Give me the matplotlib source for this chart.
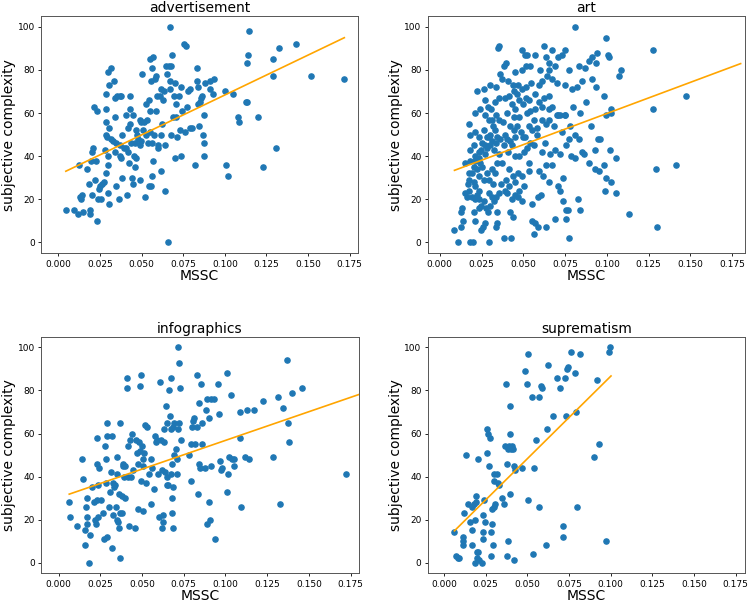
import numpy as np
import matplotlib
matplotlib.use("Agg")
import matplotlib.pyplot as plt

# ---- data (MSSC, subjective complexity) ----
adv_x = [0.0044, 0.0092, 0.0118, 0.0124, 0.0130, 0.0134, 0.0144, 0.0148, 0.0172, 0.0184,
         0.0188, 0.0192, 0.0198, 0.0204, 0.0204, 0.0208, 0.0214, 0.0218, 0.0228, 0.0232,
         0.0234, 0.0238, 0.0244, 0.0248, 0.0258, 0.0264, 0.0272, 0.0278, 0.0284, 0.0284,
         0.0288, 0.0284, 0.0284, 0.0292, 0.0298, 0.0298, 0.0298, 0.0304, 0.0304, 0.0304,
         0.0300, 0.0314, 0.0318, 0.0328, 0.0334, 0.0338, 0.0338, 0.0338, 0.0344, 0.0348,
         0.0352, 0.0364, 0.0368, 0.0372, 0.0372, 0.0378, 0.0378, 0.0384, 0.0384, 0.0392,
         0.0404, 0.0408, 0.0412, 0.0418, 0.0418, 0.0424, 0.0428, 0.0428, 0.0432, 0.0438,
         0.0444, 0.0448, 0.0448, 0.0452, 0.0458, 0.0458, 0.0464, 0.0468, 0.0472, 0.0478,
         0.0488, 0.0488, 0.0492, 0.0498, 0.0498, 0.0504, 0.0508, 0.0512, 0.0518, 0.0524,
         0.0528, 0.0532, 0.0538, 0.0544, 0.0544, 0.0548, 0.0548, 0.0552, 0.0558, 0.0558,
         0.0564, 0.0564, 0.0564, 0.0568, 0.0568, 0.0572, 0.0578, 0.0584, 0.0588, 0.0592,
         0.0596, 0.0600, 0.0608, 0.0614, 0.0616, 0.0618, 0.0624, 0.0628, 0.0632, 0.0640,
         0.0642, 0.0648, 0.0652, 0.0658, 0.0664, 0.0668, 0.0668, 0.0672, 0.0674, 0.0678,
         0.0684, 0.0688, 0.0696, 0.0698, 0.0698, 0.0704, 0.0708, 0.0712, 0.0724, 0.0728,
         0.0734, 0.0738, 0.0744, 0.0752, 0.0758, 0.0764, 0.0772, 0.0778, 0.0788, 0.0792,
         0.0804, 0.0818, 0.0832, 0.0832, 0.0838, 0.0840, 0.0844, 0.0848, 0.0858, 0.0864,
         0.0868, 0.0872, 0.0876, 0.0876, 0.0878, 0.0908, 0.0912, 0.0928, 0.0932, 0.0998,
         0.1008, 0.1020, 0.1048, 0.1078, 0.1082, 0.1124, 0.1132, 0.1134, 0.1136, 0.1148,
         0.1200, 0.1228, 0.1288, 0.1288, 0.1308, 0.1328, 0.1428, 0.1518, 0.1718]
adv_y = [15, 15, 13, 36, 21, 20, 22, 14, 34, 27,
         15, 13, 38, 22, 42, 44, 63, 29, 38, 10,
         61, 20, 25, 26, 20, 27, 28, 43, 56, 62,
         69, 32, 50, 49, 40, 36, 23, 18, 53, 73,
         79, 81, 48, 47, 75, 67, 58, 42, 46, 26,
         68, 20, 68, 45, 40, 68, 39, 50, 30, 44,
         59, 44, 22, 53, 42, 37, 68, 62, 55, 46,
         30, 59, 27, 40, 35, 46, 52, 39, 50, 48,
         57, 45, 29, 47, 56, 78, 52, 56, 21, 50,
         64, 57, 46, 66, 26, 85, 61, 51, 26, 75,
         81, 46, 31, 38, 86, 50, 76, 61, 77, 68,
         45, 44, 68, 50, 33, 71, 55, 66, 70, 45,
         24, 82, 78, 0, 82, 75, 100, 71, 50, 82,
         87, 58, 68, 39, 74, 58, 64, 49, 68, 52,
         40, 72, 61, 92, 51, 91, 63, 70, 71, 53,
         53, 36, 81, 75, 72, 64, 54, 65, 67, 68,
         50, 59, 46, 40, 74, 71, 75, 69, 76, 70,
         36, 31, 69, 58, 56, 65, 65, 83, 87, 98,
         58, 35, 85, 77, 44, 90, 92, 77, 76]

art_x = [0.0108, 0.0182, 0.0196, 0.0292, 0.0386, 0.0428, 0.0772, 0.0088, 0.0128, 0.0338,
         0.0636, 0.1302, 0.0248, 0.0256, 0.0342, 0.0272, 0.0142, 0.0212, 0.0552, 0.0568,
         0.0588, 0.0562, 0.0136, 0.0128, 0.0202, 0.0236, 0.0288, 0.0342, 0.0422, 0.0436,
         0.0692, 0.0756, 0.0768, 0.0842, 0.1132, 0.0758, 0.0152, 0.0176, 0.0192, 0.0208,
         0.0222, 0.0236, 0.0292, 0.0312, 0.0336, 0.0356, 0.0388, 0.0402, 0.0432, 0.0448,
         0.0468, 0.0492, 0.0476, 0.0552, 0.0588, 0.0608, 0.0736, 0.0828, 0.0988, 0.1052,
         0.0176, 0.0192, 0.0202, 0.0222, 0.0236, 0.0252, 0.0262, 0.0282, 0.0296, 0.0312,
         0.0328, 0.0342, 0.0372, 0.0396, 0.0412, 0.0436, 0.0468, 0.0492, 0.0536, 0.0536,
         0.0596, 0.0616, 0.0652, 0.0636, 0.0672, 0.0708, 0.0722, 0.0736, 0.0892, 0.0928,
         0.0952, 0.0982, 0.0996, 0.1022, 0.1292, 0.1412, 0.0152, 0.0182, 0.0212, 0.0232,
         0.0248, 0.0268, 0.0282, 0.0302, 0.0322, 0.0336, 0.0352, 0.0382, 0.0408, 0.0422,
         0.0448, 0.0476, 0.0502, 0.0522, 0.0542, 0.0562, 0.0582, 0.0612, 0.0632, 0.0662,
         0.0692, 0.0722, 0.0756, 0.0772, 0.0788, 0.0812, 0.0836, 0.0852, 0.0862, 0.0928,
         0.0956, 0.1016, 0.1056, 0.0182, 0.0176, 0.0212, 0.0262, 0.0282, 0.0302, 0.0316,
         0.0332, 0.0352, 0.0376, 0.0392, 0.0422, 0.0442, 0.0462, 0.0486, 0.0512, 0.0532,
         0.0552, 0.0582, 0.0612, 0.0636, 0.0656, 0.0682, 0.0708, 0.0732, 0.0752, 0.0782,
         0.0808, 0.0842, 0.0902, 0.0948, 0.0982, 0.0992, 0.1022, 0.1022, 0.1276, 0.1472,
         0.0212, 0.0242, 0.0272, 0.0286, 0.0308, 0.0336, 0.0356, 0.0388, 0.0402, 0.0432,
         0.0452, 0.0472, 0.0496, 0.0516, 0.0542, 0.0568, 0.0592, 0.0622, 0.0652, 0.0672,
         0.0702, 0.0796, 0.0872, 0.0932, 0.0222, 0.0262, 0.0302, 0.0336, 0.0372, 0.0408,
         0.0436, 0.0468, 0.0492, 0.0516, 0.0548, 0.0592, 0.0612, 0.0642, 0.0672, 0.0702,
         0.0752, 0.0792, 0.0822, 0.0852, 0.0908, 0.1072, 0.1086, 0.0362, 0.0382, 0.0396,
         0.0452, 0.0492, 0.0516, 0.0542, 0.0568, 0.0602, 0.0622, 0.0636, 0.0656, 0.0672,
         0.0692, 0.0708, 0.0732, 0.0752, 0.0772, 0.0812, 0.0836, 0.0868, 0.0892, 0.0912,
         0.0932, 0.0942, 0.0992, 0.1008, 0.1012, 0.1276, 0.0348, 0.0356, 0.0492, 0.0508,
         0.0522, 0.0652, 0.0172, 0.0168, 0.0162, 0.0202, 0.0212, 0.0232, 0.0248, 0.0262,
         0.0276, 0.0302, 0.0322, 0.0316, 0.0368, 0.0412, 0.0452, 0.0502, 0.0182, 0.0202,
         0.0232, 0.0252, 0.0272, 0.0292, 0.0312, 0.0342, 0.0362, 0.0402, 0.0432, 0.0452,
         0.0498, 0.0312, 0.0292, 0.0272, 0.0442, 0.0476, 0.0522, 0.0562, 0.0572, 0.0332,
         0.0412, 0.0442, 0.0462, 0.0532, 0.0612, 0.0652, 0.0722, 0.0752, 0.0212, 0.0242,
         0.0232]
art_y = [0, 0, 0, 0, 2, 2, 2, 6, 7, 7,
         7, 7, 6, 7, 9, 9, 10, 10, 10, 9,
         7, 4, 16, 14, 14, 16, 14, 14, 14, 12,
         11, 11, 15, 15, 13, 15, 23, 24, 21, 20,
         22, 24, 23, 21, 21, 23, 24, 23, 20, 22,
         21, 19, 24, 18, 21, 22, 19, 20, 24, 23,
         29, 32, 35, 34, 31, 35, 29, 32, 29, 34,
         32, 37, 37, 29, 34, 31, 32, 31, 37, 33,
         33, 31, 28, 36, 36, 26, 24, 30, 37, 34,
         33, 36, 30, 28, 34, 36, 37, 38, 40, 42,
         43, 41, 44, 45, 43, 46, 41, 45, 42, 47,
         40, 40, 42, 44, 46, 45, 50, 42, 46, 41,
         43, 41, 45, 48, 40, 39, 48, 42, 41, 43,
         48, 43, 39, 50, 55, 51, 52, 49, 50, 54,
         52, 57, 56, 50, 54, 52, 54, 51, 49, 54,
         52, 53, 57, 55, 57, 54, 59, 51, 59, 54,
         50, 60, 54, 48, 68, 59, 60, 62, 62, 68,
         60, 62, 66, 63, 62, 59, 67, 67, 60, 64,
         62, 66, 64, 67, 61, 69, 65, 67, 68, 63,
         59, 63, 65, 72, 70, 71, 73, 72, 76, 75,
         73, 73, 71, 72, 74, 73, 75, 77, 76, 74,
         73, 71, 72, 75, 76, 77, 80, 78, 82, 83,
         79, 80, 82, 82, 87, 80, 91, 86, 80, 89,
         82, 86, 87, 89, 80, 100, 82, 81, 84, 86,
         83, 88, 95, 87, 86, 89, 90, 91, 89, 87,
         87, 83, 32, 27, 21, 28, 26, 20, 17, 19,
         16, 17, 19, 27, 27, 26, 28, 26, 43, 45,
         49, 46, 45, 49, 47, 49, 48, 48, 45, 49,
         49, 57, 57, 59, 58, 58, 60, 57, 62, 65,
         68, 70, 69, 66, 63, 62, 59, 59, 38, 37,
         39]

inf_x = [0.0064, 0.0068, 0.0108, 0.0138, 0.0144, 0.0158, 0.0158, 0.0164, 0.0168, 0.0172,
         0.0172, 0.0184, 0.0188, 0.0198, 0.0212, 0.0218, 0.0224, 0.0228, 0.0232, 0.0232,
         0.0238, 0.0238, 0.0244, 0.0252, 0.0264, 0.0272, 0.0278, 0.0284, 0.0284, 0.0288,
         0.0288, 0.0292, 0.0300, 0.0308, 0.0314, 0.0320, 0.0320, 0.0324, 0.0328, 0.0332,
         0.0338, 0.0344, 0.0348, 0.0352, 0.0352, 0.0358, 0.0360, 0.0364, 0.0368, 0.0368,
         0.0368, 0.0378, 0.0380, 0.0384, 0.0388, 0.0392, 0.0396, 0.0400, 0.0408, 0.0412,
         0.0418, 0.0418, 0.0424, 0.0428, 0.0432, 0.0438, 0.0448, 0.0458, 0.0464, 0.0472,
         0.0474, 0.0478, 0.0484, 0.0488, 0.0488, 0.0492, 0.0492, 0.0498, 0.0504, 0.0508,
         0.0508, 0.0512, 0.0518, 0.0524, 0.0532, 0.0544, 0.0552, 0.0554, 0.0558, 0.0572,
         0.0578, 0.0582, 0.0592, 0.0598, 0.0604, 0.0608, 0.0612, 0.0618, 0.0620, 0.0624,
         0.0628, 0.0632, 0.0632, 0.0638, 0.0642, 0.0648, 0.0648, 0.0652, 0.0658, 0.0664,
         0.0668, 0.0672, 0.0672, 0.0676, 0.0678, 0.0678, 0.0678, 0.0684, 0.0684, 0.0688,
         0.0692, 0.0694, 0.0704, 0.0708, 0.0712, 0.0718, 0.0718, 0.0722, 0.0722, 0.0728,
         0.0732, 0.0784, 0.0792, 0.0796, 0.0798, 0.0804, 0.0812, 0.0818, 0.0828, 0.0832,
         0.0838, 0.0840, 0.0840, 0.0848, 0.0852, 0.0858, 0.0860, 0.0876, 0.0884, 0.0888,
         0.0892, 0.0900, 0.0904, 0.0908, 0.0912, 0.0916, 0.0932, 0.0938, 0.0958, 0.0960,
         0.0968, 0.0974, 0.0978, 0.1008, 0.1012, 0.1018, 0.1024, 0.1036, 0.1042, 0.1052,
         0.1054, 0.1088, 0.1088, 0.1092, 0.1114, 0.1128, 0.1138, 0.1168, 0.1224, 0.1284,
         0.1312, 0.1324, 0.1344, 0.1368, 0.1374, 0.1378, 0.1398, 0.1458, 0.1722]
inf_y = [28, 21, 17, 48, 39, 8, 15, 26, 21, 18,
         30, 0, 13, 35, 28, 20, 18, 29, 58, 46,
         36, 21, 44, 29, 23, 11, 54, 48, 37, 12,
         65, 59, 26, 33, 42, 59, 7, 22, 37, 35,
         36, 26, 49, 41, 20, 19, 16, 32, 65, 23,
         2, 23, 31, 46, 45, 40, 30, 45, 86, 81,
         54, 40, 17, 57, 40, 60, 43, 16, 57, 51,
         46, 25, 56, 52, 82, 87, 38, 54, 48, 24,
         45, 51, 64, 37, 63, 41, 48, 27, 44, 34,
         59, 56, 57, 41, 21, 84, 57, 43, 16, 19,
         22, 56, 62, 42, 73, 36, 40, 65, 36, 80,
         68, 86, 62, 41, 30, 46, 23, 63, 35, 16,
         65, 50, 53, 48, 41, 62, 100, 93, 65, 81,
         57, 50, 55, 38, 63, 66, 67, 55, 63, 87,
         32, 46, 74, 44, 83, 65, 55, 44, 71, 18,
         76, 67, 28, 20, 45, 76, 76, 11, 83, 69,
         47, 43, 44, 88, 33, 41, 49, 78, 48, 48,
         45, 70, 58, 26, 49, 71, 48, 71, 75, 49,
         77, 27, 72, 94, 65, 56, 79, 81, 41]

sup_x = [0.0062, 0.0072, 0.0082, 0.0090, 0.0116, 0.0116, 0.0116, 0.0122, 0.0130, 0.0146,
         0.0156, 0.0166, 0.0166, 0.0170, 0.0178, 0.0186, 0.0186, 0.0190, 0.0192, 0.0196,
         0.0200, 0.0206, 0.0206, 0.0210, 0.0226, 0.0232, 0.0236, 0.0236, 0.0240, 0.0246,
         0.0256, 0.0260, 0.0266, 0.0270, 0.0276, 0.0280, 0.0282, 0.0286, 0.0290, 0.0296,
         0.0298, 0.0302, 0.0302, 0.0306, 0.0316, 0.0326, 0.0330, 0.0350, 0.0362, 0.0366,
         0.0372, 0.0376, 0.0378, 0.0382, 0.0386, 0.0390, 0.0394, 0.0396, 0.0396, 0.0402,
         0.0410, 0.0416, 0.0422, 0.0422, 0.0426, 0.0470, 0.0486, 0.0496, 0.0502, 0.0506,
         0.0530, 0.0532, 0.0542, 0.0550, 0.0570, 0.0572, 0.0580, 0.0590, 0.0612, 0.0616,
         0.0622, 0.0656, 0.0676, 0.0696, 0.0712, 0.0716, 0.0726, 0.0734, 0.0736, 0.0746,
         0.0760, 0.0786, 0.0792, 0.0800, 0.0816, 0.0900, 0.0916, 0.0930, 0.0972, 0.0992,
         0.0996]
sup_y = [14, 3, 2, 2, 10, 12, 8, 23, 50, 27,
         19, 26, 8, 15, 27, 0, 20, 31, 28, 5,
         2, 48, 5, 1, 0, 14, 22, 11, 29, 19,
         62, 51, 60, 45, 58, 3, 14, 25, 18, 8,
         38, 41, 26, 27, 41, 37, 36, 30, 27, 54,
         83, 46, 3, 53, 10, 54, 73, 60, 32, 53,
         54, 53, 1, 45, 43, 44, 89, 83, 97, 29,
         77, 4, 44, 57, 26, 77, 82, 81, 8, 62,
         92, 68, 86, 81, 12, 17, 86, 68, 90, 91,
         98, 88, 70, 26, 97, 49, 85, 55, 10, 98,
         100]

titles = ["advertisement", "art", "infographics", "suprematism"]
# regression lines: (intercept, slope, x end)
fit_b = [31.4, 30.9, 30.1, 10.0]
fit_m = [369.8, 289.0, 267.0, 766.0]
fit_end = [0.1718, 0.18, 0.18, 0.1002]

panels = [(adv_x, adv_y), (art_x, art_y), (inf_x, inf_y), (sup_x, sup_y)]
xlims = [(-0.0105, 0.18), (-0.0072, 0.1826), (-0.0105, 0.18), (-0.0098, 0.1806)]
rects = [[0.0547, 0.580, 0.4226, 0.3935],
         [0.5703, 0.580, 0.4230, 0.3935],
         [0.0547, 0.0492, 0.4240, 0.3924],
         [0.5703, 0.0492, 0.4230, 0.3924]]

fig = plt.figure(figsize=(7.5, 6.03), dpi=100)
for i in range(4):
    ax = fig.add_axes(rects[i])
    x = np.array(panels[i][0])
    y = np.array(panels[i][1])
    ax.scatter(x, y, s=14, color="#1f77b4", zorder=2)
    lx = np.array([x.min(), fit_end[i]])
    ax.plot(lx, fit_b[i] + fit_m[i] * lx, color="orange", lw=1.2, zorder=3)
    ax.set_xlim(xlims[i])
    ax.set_ylim(-5, 105)
    ax.set_xticks(np.arange(0, 0.176, 0.025))
    ax.set_xticklabels(["%.3f" % v for v in np.arange(0, 0.176, 0.025)])
    ax.set_yticks([0, 20, 40, 60, 80, 100])
    ax.tick_params(labelsize=6.5, length=2.5, width=0.6, pad=2)
    for sp in ax.spines.values():
        sp.set_linewidth(0.7)
        sp.set_color("#555555")
    ax.set_title(titles[i], fontsize=10, pad=3)
    ax.set_xlabel("MSSC", fontsize=10, labelpad=0)
    ax.set_ylabel("subjective complexity", fontsize=10, labelpad=1)

fig.savefig("out.png", dpi=100)
